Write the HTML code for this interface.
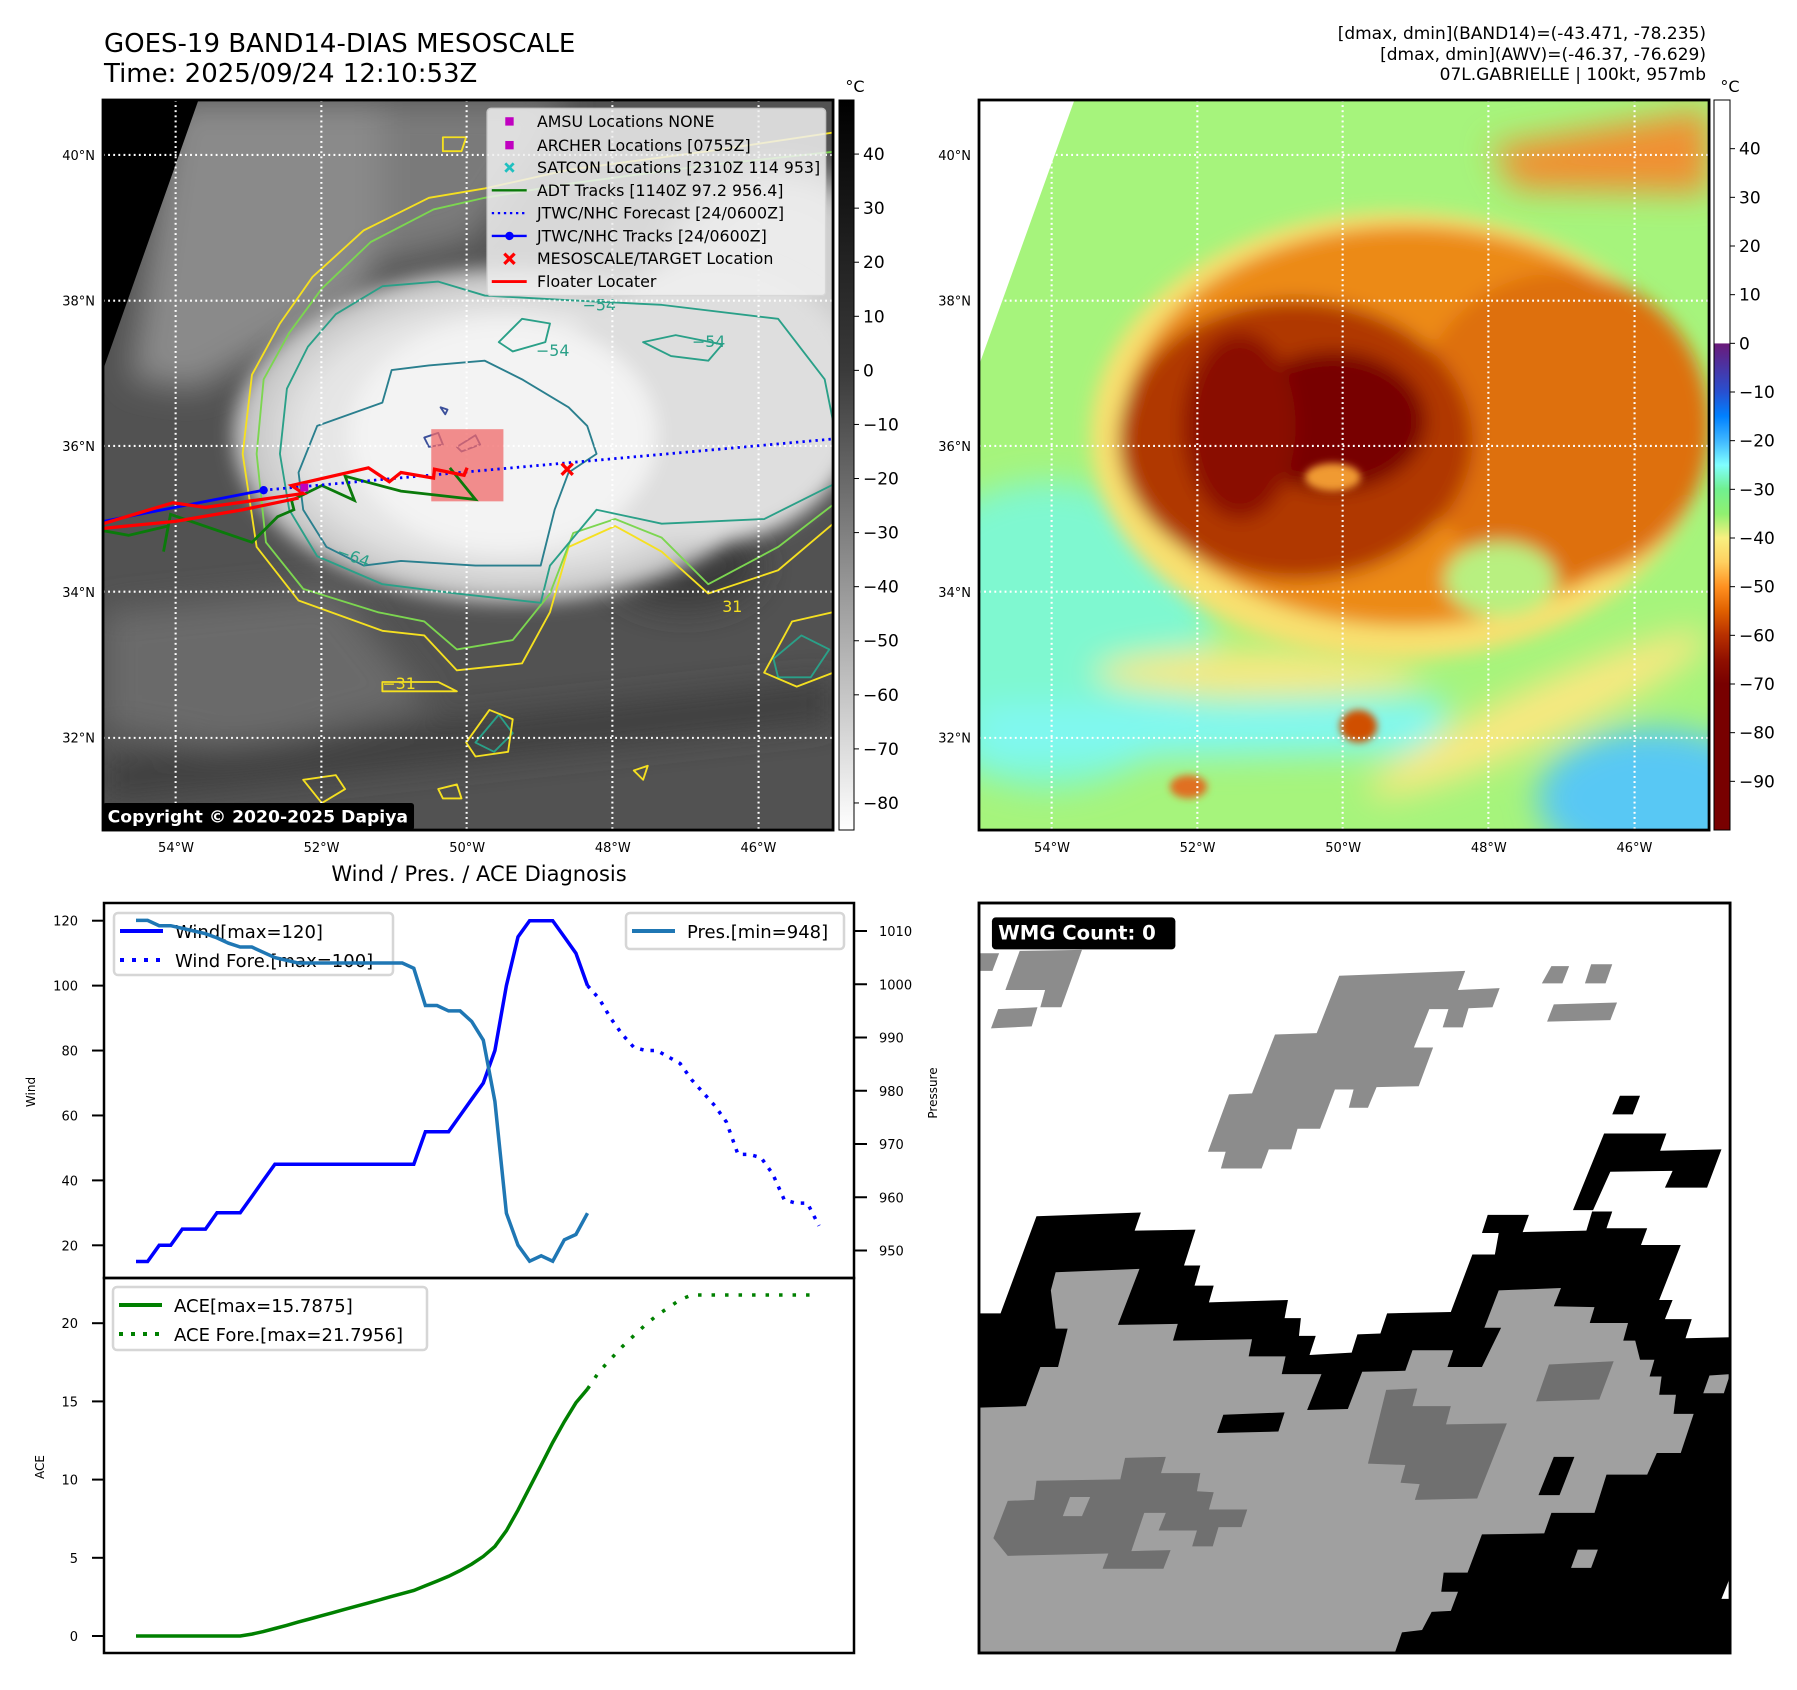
<!DOCTYPE html>
<html><head><meta charset="utf-8">
<style>
html,body{margin:0;padding:0;background:#fff;}
svg{display:block;font-family:"DejaVu Sans","Liberation Sans",sans-serif;}
</style></head>
<body>
<svg id="fig" width="1797" height="1690" viewBox="0 0 1797 1690" xmlns="http://www.w3.org/2000/svg">
<defs>
  <filter id="b8" x="-20%" y="-20%" width="140%" height="140%"><feGaussianBlur stdDeviation="8"/></filter>
  <filter id="b20" x="-30%" y="-30%" width="160%" height="160%"><feGaussianBlur stdDeviation="20"/></filter>
  <filter id="b35" x="-30%" y="-30%" width="160%" height="160%"><feGaussianBlur stdDeviation="35"/></filter>
  <clipPath id="clipL"><rect x="0" y="0" width="1568" height="1568"/></clipPath>
  <linearGradient id="cbGray" x1="0" y1="0" x2="0" y2="1">
    <stop offset="0" stop-color="#000"/><stop offset="0.37" stop-color="#3a3a3a"/><stop offset="1" stop-color="#fff"/>
  </linearGradient>
  <linearGradient id="cbAwv" x1="0" y1="0" x2="0" y2="1">
    <stop offset="0" stop-color="#fff"/><stop offset="0.333" stop-color="#fff"/>
    <stop offset="0.334" stop-color="#6a1a7a"/><stop offset="0.4" stop-color="#2850d0"/>
    <stop offset="0.433" stop-color="#0080ff"/><stop offset="0.467" stop-color="#40b8ff"/>
    <stop offset="0.5" stop-color="#80ffff"/><stop offset="0.533" stop-color="#70f090"/>
    <stop offset="0.567" stop-color="#90f070"/><stop offset="0.6" stop-color="#f8f080"/>
    <stop offset="0.633" stop-color="#ffd060"/><stop offset="0.667" stop-color="#ff9020"/>
    <stop offset="0.7" stop-color="#e06000"/><stop offset="0.733" stop-color="#b83000"/>
    <stop offset="0.767" stop-color="#901000"/><stop offset="0.8" stop-color="#780000"/>
    <stop offset="1" stop-color="#780000"/>
  </linearGradient>
  <radialGradient id="shield" cx="0.5" cy="0.5" r="0.5">
    <stop offset="0" stop-color="#f2f2f2"/><stop offset="0.75" stop-color="#e4e4e4"/><stop offset="1" stop-color="#bdbdbd"/>
  </radialGradient>
</defs>

<text x="104" y="52" font-size="26" fill="#000">GOES-19 BAND14-DIAS MESOSCALE</text>
<text x="104" y="82" font-size="26" fill="#000">Time: 2025/09/24 12:10:53Z</text>
<g font-size="17" text-anchor="end" fill="#000">
  <text x="1706" y="39">[dmax, dmin](BAND14)=(-43.471, -78.235)</text>
  <text x="1706" y="60">[dmax, dmin](AWV)=(-46.37, -76.629)</text>
  <text x="1706" y="80">07L.GABRIELLE | 100kt, 957mb</text>
</g>

<!-- LEFT MAP -->
<g transform="translate(103,100) scale(0.4656)">
  <g clip-path="url(#clipL)">
    <rect x="0" y="0" width="1568" height="1568" fill="#525252"/>
    <g filter="url(#b35)">
      <path d="M150,0 L700,0 L560,420 L200,620 L60,600 Z" fill="#8a8a8a"/>
      <path d="M600,0 L1000,0 L800,300 L600,350 Z" fill="#7a7a7a"/>
      <path d="M0,1100 L500,1050 L700,1300 L300,1400 L0,1350Z" fill="#6a6a6a"/>
      <path d="M0,1420 L1568,1250 L1568,1330 L0,1500Z" fill="#3d3d3d"/>
      <ellipse cx="1250" cy="1000" rx="160" ry="90" fill="#3a3a3a"/>
      <ellipse cx="1450" cy="400" rx="250" ry="250" fill="#cfcfcf"/>
    </g>
    <g filter="url(#b20)">
      <ellipse cx="880" cy="720" rx="600" ry="360" fill="url(#shield)"/>
      <ellipse cx="1300" cy="650" rx="330" ry="300" fill="#dedede"/>
      <ellipse cx="860" cy="720" rx="330" ry="250" fill="#f3f3f3"/>
    </g>
    <path d="M0,0 L205,0 L0,580 Z" fill="#000"/>
    <g fill="none" stroke-width="4" stroke-linejoin="round">
      <path d="M300,760 L320,590 L380,480 L450,380 L560,280 L700,210 L820,190 L1000,150 L1300,110 L1568,70 L1580,900 L1450,1010 L1300,1060 L1200,970 L1100,915 L1000,960 L960,1100 L900,1210 L760,1225 L690,1150 L600,1140 L420,1075 L330,960 Z" stroke="#f5e020"/>
      <path d="M330,760 L345,600 L400,500 L470,405 L575,305 L710,235 L820,210 L1000,180 L1300,140 L1580,110 L1580,860 L1450,960 L1300,1040 L1200,940 L1100,900 L1010,930 L960,1060 L880,1160 L760,1180 L690,1120 L590,1100 L430,1050 L350,950 Z" stroke="#7cd650"/>
      <path d="M380,760 L395,620 L440,530 L500,460 L600,400 L720,390 L820,420 L1000,430 L1200,440 L1450,470 L1550,600 L1580,750 L1580,820 L1420,900 L1200,910 L1060,880 L960,1000 L940,1080 L760,1060 L600,1040 L460,980 L400,880 Z" stroke="#2aa088"/>
      <path d="M600,650 L620,580 L700,570 L820,560 L900,600 L1000,660 L1040,700 L1060,760 L1000,800 L970,880 L940,1000 L800,1000 L640,990 L560,1000 L480,960 L430,880 L420,800 L460,700 Z" stroke="#2a7f8e"/>
      <path d="M690,725 L720,715 L730,740 L700,745 Z M760,745 L800,720 L810,740 L770,755Z M725,660 L740,665 L735,675Z" stroke="#3b4f9a"/>
      <path d="M1160,520 L1230,505 L1330,525 L1300,560 L1220,550 Z M850,520 L900,470 L960,480 L950,520 L880,540 Z M1440,1200 L1500,1150 L1560,1180 L1520,1240 L1450,1240Z M800,1380 L850,1320 L880,1360 L840,1400Z" stroke="#2aa088"/>
      <path d="M1420,1230 L1480,1120 L1568,1100 L1568,1230 L1490,1260Z M780,1380 L830,1310 L880,1330 L870,1400 L800,1410Z M720,1480 L760,1470 L770,1500 L730,1500Z M430,1460 L500,1450 L520,1480 L470,1510Z M600,1250 L720,1250 L760,1270 L600,1270Z M730,80 L780,80 L770,110 L730,110Z M1140,1440 L1170,1430 L1160,1460Z" stroke="#f5e020"/>
    </g>
    <g font-size="34" fill="#2aa088">
      <text x="1030" y="452">−54</text><text x="930" y="550">−54</text><text x="1265" y="530">−54</text>
      <text x="500" y="990" transform="rotate(20 530 985)">−64</text>
      <text x="1330" y="1100" fill="#f5e020">31</text><text x="600" y="1265" fill="#f5e020">−31</text>
    </g>
    <g stroke="#fff" stroke-width="4.5" stroke-dasharray="4,7">
      <line x1="0" y1="118" x2="1568" y2="118"/><line x1="0" y1="431" x2="1568" y2="431"/>
      <line x1="0" y1="743" x2="1568" y2="743"/><line x1="0" y1="1056" x2="1568" y2="1056"/>
      <line x1="0" y1="1370" x2="1568" y2="1370"/>
      <line x1="156" y1="0" x2="156" y2="1568"/><line x1="469" y1="0" x2="469" y2="1568"/>
      <line x1="781" y1="0" x2="781" y2="1568"/><line x1="1094" y1="0" x2="1094" y2="1568"/>
      <line x1="1408" y1="0" x2="1408" y2="1568"/>
    </g>
    <rect x="705" y="707" width="155" height="155" fill="#f06a6a" opacity="0.75"/>
    <polyline points="0,925 55,935 140,915 130,970 145,890 320,950 375,895 410,880 405,860 470,828 540,860 520,808 640,840 800,858 745,790" fill="none" stroke="#0a7a0a" stroke-width="6"/>
    <polyline points="0,905 345,838" fill="none" stroke="#0000ff" stroke-width="6"/>
    <circle cx="345" cy="838" r="9" fill="#0000ff"/>
    <line x1="345" y1="838" x2="1568" y2="728" stroke="#0000ff" stroke-width="6" stroke-dasharray="5,9"/>
    <polyline points="0,910 150,865 220,875 430,845 405,828 570,790 615,820 640,800 710,812 712,793 775,806 782,790 775,808" fill="none" stroke="#ff0000" stroke-width="7"/>
    <polyline points="0,920 155,905 300,880 420,855" fill="none" stroke="#ff0000" stroke-width="7"/>
    <rect x="424" y="824" width="17" height="17" fill="#c000c0"/>
    <path d="M985,781 L1009,805 M1009,781 L985,805" stroke="#ff0000" stroke-width="7"/>
    <g>
      <rect x="825" y="18" width="727" height="402" rx="8" fill="#f0f0f0" opacity="0.85" stroke="#d8d8d8" stroke-width="3"/>
      <rect x="864" y="37" width="18" height="18" fill="#c000c0"/>
      <rect x="864" y="88" width="18" height="18" fill="#c000c0"/>
      <path d="M864,136 L882,154 M882,136 L864,154" stroke="#20c0c0" stroke-width="6"/>
      <line x1="835" y1="194" x2="910" y2="194" stroke="#0a7a0a" stroke-width="5"/>
      <line x1="835" y1="243" x2="910" y2="243" stroke="#0000ff" stroke-width="5" stroke-dasharray="5,8"/>
      <line x1="835" y1="292" x2="910" y2="292" stroke="#0000ff" stroke-width="5"/><circle cx="873" cy="292" r="9" fill="#0000ff"/>
      <path d="M862,330 L884,352 M884,330 L862,352" stroke="#ff0000" stroke-width="7"/>
      <line x1="835" y1="390" x2="910" y2="390" stroke="#ff0000" stroke-width="6"/>
      <g font-size="34" fill="#000">
        <text x="932" y="58">AMSU Locations NONE</text>
        <text x="932" y="109">ARCHER Locations [0755Z]</text>
        <text x="932" y="157">SATCON Locations [2310Z 114 953]</text>
        <text x="932" y="206">ADT Tracks [1140Z 97.2 956.4]</text>
        <text x="932" y="255">JTWC/NHC Forecast [24/0600Z]</text>
        <text x="932" y="304">JTWC/NHC Tracks [24/0600Z]</text>
        <text x="932" y="352">MESOSCALE/TARGET Location</text>
        <text x="932" y="402">Floater Locater</text>
      </g>
    </g>
    <rect x="0" y="1510" width="668" height="58" rx="6" fill="#000"/>
    <text x="10" y="1552" font-size="37" font-weight="bold" fill="#fff">Copyright © 2020-2025 Dapiya</text>
  </g>
  <rect x="0" y="0" width="1568" height="1568" fill="none" stroke="#000" stroke-width="6"/>
</g>

<rect x="839" y="100" width="15" height="730" fill="url(#cbGray)" stroke="#000" stroke-width="1"/>
<text x="855" y="92" font-size="16" text-anchor="middle">°C</text>
<g id="cbLticks" font-size="17" fill="#000"></g>

<!-- RIGHT MAP -->
<g transform="translate(979,100) scale(0.4656)">
  <g clip-path="url(#clipL)">
    <rect x="0" y="0" width="1568" height="1568" fill="#a6f47c"/>
    <g filter="url(#b35)">
      <ellipse cx="150" cy="1150" rx="350" ry="330" fill="#7ff8d0"/>
      <path d="M0,1300 L1000,1280 L1000,1400 L0,1420Z" fill="#80f8f0"/>
      <ellipse cx="1450" cy="1500" rx="250" ry="150" fill="#58c8f4"/>
      <ellipse cx="1200" cy="1320" rx="400" ry="60" fill="#f8e880" transform="rotate(-25 1200 1320)"/>
      <path d="M1100,100 L1568,20 L1568,200 L1150,190Z" fill="#f09030"/>
      <ellipse cx="600" cy="1230" rx="350" ry="50" fill="#f8e880"/>
    </g>
    <g filter="url(#b20)">
      <ellipse cx="900" cy="720" rx="660" ry="480" fill="#f8e070"/>
      <ellipse cx="920" cy="700" rx="610" ry="430" fill="#ec8a18"/>
      <ellipse cx="1250" cy="700" rx="320" ry="330" fill="#de7010"/>
      <ellipse cx="1120" cy="1030" rx="120" ry="80" fill="#b8f080"/>
      <ellipse cx="680" cy="730" rx="380" ry="300" fill="#b03800"/>
      <ellipse cx="760" cy="690" rx="200" ry="150" fill="#780000"/>
      <ellipse cx="560" cy="700" rx="120" ry="200" fill="#8a1000"/>
    </g>
    <g filter="url(#b8)">
      <ellipse cx="760" cy="810" rx="60" ry="30" fill="#f09a30"/>
      <ellipse cx="815" cy="1345" rx="40" ry="35" fill="#d05000"/>
      <ellipse cx="450" cy="1475" rx="40" ry="25" fill="#e07020"/>
    </g>
    <path d="M0,0 L205,0 L0,570 Z" fill="#fff"/>
    <g stroke="#fff" stroke-width="4.5" stroke-dasharray="4,7">
      <line x1="0" y1="118" x2="1568" y2="118"/><line x1="0" y1="431" x2="1568" y2="431"/>
      <line x1="0" y1="743" x2="1568" y2="743"/><line x1="0" y1="1056" x2="1568" y2="1056"/>
      <line x1="0" y1="1370" x2="1568" y2="1370"/>
      <line x1="156" y1="0" x2="156" y2="1568"/><line x1="469" y1="0" x2="469" y2="1568"/>
      <line x1="781" y1="0" x2="781" y2="1568"/><line x1="1094" y1="0" x2="1094" y2="1568"/>
      <line x1="1408" y1="0" x2="1408" y2="1568"/>
    </g>
  </g>
  <rect x="0" y="0" width="1568" height="1568" fill="none" stroke="#000" stroke-width="6"/>
</g>
<rect x="1714" y="100" width="16" height="730" fill="url(#cbAwv)" stroke="#000" stroke-width="1"/>
<text x="1730" y="92" font-size="16" text-anchor="middle">°C</text>
<g id="cbRticks" font-size="17" fill="#000"></g>
<g id="mapLabels" font-size="13" fill="#000"></g>

<!-- CHART -->
<text x="479" y="881" font-size="21" text-anchor="middle">Wind / Pres. / ACE Diagnosis</text>
<g id="chart"></g>

<!-- WMG panel -->
<g transform="translate(979,903) scale(0.479,0.4783)">
  <rect x="0" y="0" width="1568" height="1568" fill="#fff"/>
  <g fill="#8c8c8c">
    <polygon points="752,152 1015,142 1000,182 1087,178 1072,218 1022,220 1010,260 968,260 980,222 940,222 908,302 948,302 918,383 830,385 812,428 772,428 782,390 743,390 712,472 665,472 652,515 605,515 590,555 505,555 515,520 478,520 522,400 570,398 618,275 705,272"/>
    <polygon points="0,105 42,105 28,142 0,142"/>
    <polygon points="85,100 215,98 172,218 128,218 138,182 55,182"/>
    <polygon points="40,222 122,218 110,258 25,262"/>
    <polygon points="1195,132 1232,132 1218,168 1175,168"/>
    <polygon points="1278,128 1322,128 1308,168 1265,168"/>
    <polygon points="1200,212 1332,208 1318,245 1186,248"/>
  </g>
  <g fill="#000">
    <polygon points="1338,403 1380,403 1365,442 1322,442"/>
    <polygon points="1305,482 1435,482 1422,518 1550,515 1520,595 1432,595 1448,560 1318,562 1282,642 1240,642"/>
    <polygon points="0,858 45,858 120,655 338,647 325,685 452,683 428,758 462,758 450,800 490,800 480,835 645,830 638,868 672,868 668,905 703,905 690,945 778,940 790,902 838,900 852,858 985,855 1030,735 1077,735 1085,690 1050,690 1062,652 1148,652 1135,688 1268,685 1280,645 1322,645 1310,680 1395,680 1382,715 1465,715 1420,830 1448,830 1432,870 1488,870 1475,910 1568,908 1568,1568 0,1568"/>
  </g>
  <polygon fill="#a0a0a0" points="0,1055 98,1052 128,970 165,970 185,890 160,890 150,810 160,772 335,765 290,882 415,880 405,915 570,912 563,948 640,948 632,985 715,985 685,1060 770,1058 800,980 890,978 905,935 990,935 978,970 1050,970 1090,888 1055,888 1085,810 1215,805 1200,843 1285,845 1275,878 1355,878 1345,915 1370,915 1380,955 1410,955 1400,990 1425,990 1420,1028 1455,1028 1450,1068 1492,1068 1465,1150 1415,1150 1395,1195 1310,1195 1285,1275 1195,1275 1180,1318 1050,1320 1020,1400 970,1400 965,1440 1000,1440 985,1480 945,1482 925,1520 883,1525 868,1568 0,1568"/>
  <g fill="#000">
    <polygon points="510,1070 638,1065 625,1105 497,1108"/>
    <polygon points="1200,1158 1243,1158 1212,1238 1168,1238"/>
  </g>
  <g fill="#a0a0a0">
    <polygon points="1250,1352 1292,1352 1278,1390 1236,1390"/>
    <polygon points="1525,988 1568,985 1555,1025 1512,1025"/>
  </g>
  <polygon fill="#fff" points="1568,1410 1550,1455 1568,1455"/>
  <g fill="#707070">
    <polygon points="850,1018 915,1015 905,1052 985,1052 975,1090 1102,1088 1040,1245 910,1248 920,1215 880,1212 890,1175 812,1172"/>
    <polygon points="1190,965 1325,958 1295,1038 1163,1042"/>
    <polygon points="60,1250 115,1248 120,1208 295,1205 305,1160 390,1158 380,1192 462,1192 455,1230 490,1232 480,1268 560,1268 548,1305 500,1305 488,1345 445,1345 455,1312 375,1312 390,1275 345,1275 318,1355 400,1353 385,1392 258,1392 270,1360 60,1365 30,1328"/>
  </g>
  <polygon fill="#a0a0a0" points="190,1242 232,1242 215,1282 175,1282"/>
  <rect x="27" y="30" width="383" height="67" rx="8" fill="#000"/>
  <text x="40" y="76" font-size="41" font-weight="bold" fill="#fff">WMG Count: 0</text>
  <rect x="0" y="0" width="1568" height="1568" fill="none" stroke="#000" stroke-width="6"/>
</g>

<script>
const windObs = [15,15,20,20,25,25,25,30,30,30,35,40,45,45,45,45,45,45,45,45,45,45,45,45,45,55,55,55,60,65,70,80,100,115,120,120,120,115,110,100];
const windFcst = [100,96,90,85,81,80,80,78,76,71,67,63,58,48,48,47,42,34,33,33,26];
const presObs = [1012,1012,1011,1011,1010.5,1010,1009.5,1008.7,1007.7,1007,1007,1006,1005,1004.5,1004,1004,1004,1004,1004,1004,1004,1004,1004,1004,1003,996,996,995,995,993,989.5,978,957,951,948,949,948,952,953,957];
const aceObs = [0,0,0,0,0,0,0,0,0,0,0.12,0.28,0.48,0.68,0.89,1.09,1.29,1.49,1.70,1.90,2.10,2.30,2.51,2.71,2.91,3.21,3.51,3.82,4.18,4.60,5.09,5.73,6.73,8.05,9.49,10.93,12.37,13.70,14.91,15.79];
const aceFcst = [15.79,16.9,17.7,18.5,19.2,19.9,20.5,21.0,21.5,21.8,21.8,21.8,21.8,21.8,21.8,21.8,21.8,21.8,21.8,21.8,21.8];
const windTicks = [20,40,60,80,100,120];
const presTicks = [950,960,970,980,990,1000,1010];
const aceTicks = [0,5,10,15,20];
const cbLTicks = [40,30,20,10,0,-10,-20,-30,-40,-50,-60,-70,-80];
const cbRTicks = [40,30,20,10,0,-10,-20,-30,-40,-50,-60,-70,-80,-90];
const latTicks = [40,38,36,34,32];
const lonTicks = [54,52,50,48,46];

const NS='http://www.w3.org/2000/svg';
function mk(tag, attrs, parent){const e=document.createElementNS(NS,tag);for(const k in attrs)e.setAttribute(k,attrs[k]);parent.appendChild(e);return e;}
const xPix = i => 136 + i*(819-136)/59;
const windY = v => 920.7 + (120-v)*3.246;
const presY = p => 931 + (1010-p)*5.325;
const aceY = a => 1636 - a*15.64;
const chart=document.getElementById('chart');

const f1=mk('rect',{x:104,y:903,width:750,height:375,fill:'none',stroke:'#000','stroke-width':2.5},chart);


const f2=mk('rect',{x:104,y:1278,width:750,height:375,fill:'none',stroke:'#000','stroke-width':2.5},chart);



function ptsOf(arr, offset, yf){return arr.map((v,k)=>xPix(k+offset).toFixed(1)+','+yf(v).toFixed(1)).join(' ');}

function legend(name,x,y,w,h,items){
  const g=mk('g',{},chart);
  
  
  mk('rect',{x:x,y:y,width:w,height:h,rx:4,fill:'#fff','fill-opacity':0.8,stroke:'#d6d6d6','stroke-width':2.5},g);
  items.forEach((it,k)=>{const cy=y+18+k*29;
    mk('line',{x1:x+6,y1:cy,x2:x+49,y2:cy,stroke:it.c,'stroke-width':4,'stroke-dasharray':it.d||'none'},g);
    const t=mk('text',{x:x+61,y:cy+7,'font-size':18},g);t.textContent=it.t;});
}
legend('wind-legend',114,913,279,62,[{c:'#0000ff',t:'Wind[max=120]'},{c:'#0000ff',d:'4,8',t:'Wind Fore.[max=100]'}]);

const wl=mk('polyline',{points:ptsOf(windObs,0,windY),fill:'none',stroke:'#0000ff','stroke-width':3.5},chart);


const wf=mk('polyline',{points:ptsOf(windFcst,39,windY),fill:'none',stroke:'#0000ff','stroke-width':3.5,'stroke-dasharray':'3.5,7'},chart);


const pl=mk('polyline',{points:ptsOf(presObs,0,presY),fill:'none',stroke:'#1f77b4','stroke-width':3.5},chart);


legend('pressure-legend',626,913,218,36,[{c:'#1f77b4',t:'Pres.[min=948]'}]);
const al=mk('polyline',{points:ptsOf(aceObs,0,aceY),fill:'none',stroke:'#008000','stroke-width':3.5},chart);


const af=mk('polyline',{points:ptsOf(aceFcst,39,aceY),fill:'none',stroke:'#008000','stroke-width':3.5,'stroke-dasharray':'3.5,10'},chart);


legend('ace-legend',113,1287,314,63,[{c:'#008000',t:'ACE[max=15.7875]'},{c:'#008000',d:'4,8',t:'ACE Fore.[max=21.7956]'}]);

windTicks.forEach(v=>{const y=windY(v);
  const t=mk('line',{x1:92,y1:y,x2:104,y2:y,stroke:'#000','stroke-width':2},chart);
  
  
  const l=mk('text',{x:78,y:y+5,'font-size':13,'text-anchor':'end'},chart);l.textContent=v;
  
  });
presTicks.forEach(v=>{const y=presY(v);
  const t=mk('line',{x1:854,y1:y,x2:867,y2:y,stroke:'#000','stroke-width':2},chart);
  
  
  const l=mk('text',{x:879,y:y+5,'font-size':13},chart);l.textContent=v;
  
  });
aceTicks.forEach(v=>{const y=aceY(v);
  const t=mk('line',{x1:92,y1:y,x2:104,y2:y,stroke:'#000','stroke-width':2},chart);
  
  
  const l=mk('text',{x:78,y:y+5,'font-size':13,'text-anchor':'end'},chart);l.textContent=v;
  
  });

const yl1=mk('text',{x:0,y:0,'font-size':12,'text-anchor':'middle',transform:'translate(35,1092) rotate(-90)'},chart);yl1.textContent='Wind';


const yl2=mk('text',{x:0,y:0,'font-size':12,'text-anchor':'middle',transform:'translate(937,1093) rotate(-90)'},chart);yl2.textContent='Pressure';


const yl3=mk('text',{x:0,y:0,'font-size':12,'text-anchor':'middle',transform:'translate(44,1467) rotate(-90)'},chart);yl3.textContent='ACE';



const cbL=document.getElementById('cbLticks');
cbLTicks.forEach(v=>{const y=100+(50-v)*730/135;
  mk('line',{x1:854,y1:y,x2:859,y2:y,stroke:'#000','stroke-width':1},cbL);
  const t=mk('text',{x:863,y:y+6},cbL);t.textContent=(v<0?'\u2212'+(-v):v);
  
  });
const cbR=document.getElementById('cbRticks');
cbRTicks.forEach(v=>{const y=100+(50-v)*730/150;
  mk('line',{x1:1730,y1:y,x2:1735,y2:y,stroke:'#000','stroke-width':1},cbR);
  const t=mk('text',{x:1739,y:y+6},cbR);t.textContent=(v<0?'\u2212'+(-v):v);
  
  });

const ml=document.getElementById('mapLabels');
latTicks.forEach((v,k)=>{const y=155+k*145.6;
  [95,971].forEach(x=>{const t=mk('text',{x:x,y:y+5,'text-anchor':'end'},ml);t.textContent=v+'°N';
  
  });});
lonTicks.forEach((v,k)=>{
  [176,1052].forEach(x0=>{const t=mk('text',{x:x0+k*145.6,y:852,'text-anchor':'middle'},ml);t.textContent=v+'°W';
  
  });});
</script>
</body></html>
